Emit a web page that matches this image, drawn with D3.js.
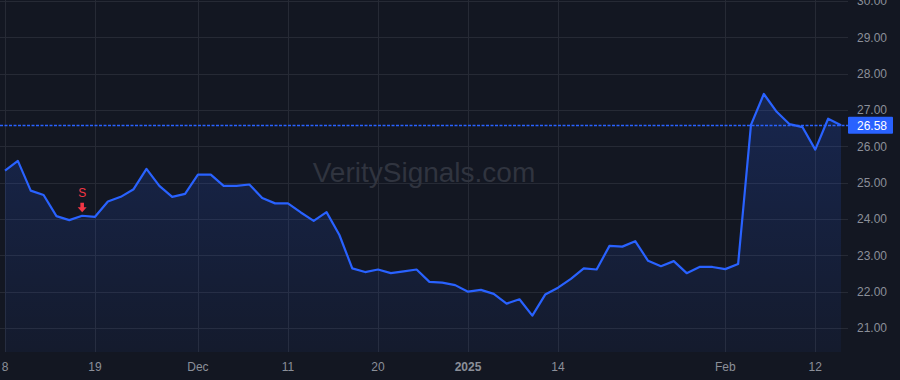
<!DOCTYPE html>
<html>
<head>
<meta charset="utf-8">
<script src="https://cdn.jsdelivr.net/npm/d3@7"></script>
<style>
  html, body { margin: 0; padding: 0; background: #131722; }
  svg { display: block; font-family: "Liberation Sans", Arial, sans-serif; }
</style>
</head>
<body>
<svg id="chart" width="900" height="380"></svg>
<script>
// trading days shown on the chart
const dates = [
  "2024-11-08","2024-11-11","2024-11-12","2024-11-13","2024-11-14","2024-11-15",
  "2024-11-18","2024-11-19","2024-11-20","2024-11-21","2024-11-22",
  "2024-11-25","2024-11-26","2024-11-27","2024-11-29",
  "2024-12-02","2024-12-03","2024-12-04","2024-12-05","2024-12-06",
  "2024-12-09","2024-12-10","2024-12-11","2024-12-12","2024-12-13",
  "2024-12-16","2024-12-17","2024-12-18","2024-12-19","2024-12-20",
  "2024-12-23","2024-12-24","2024-12-26","2024-12-27","2024-12-30","2024-12-31",
  "2025-01-02","2025-01-03","2025-01-06","2025-01-07","2025-01-08","2025-01-10",
  "2025-01-13","2025-01-14","2025-01-15","2025-01-16","2025-01-17",
  "2025-01-21","2025-01-22","2025-01-23","2025-01-24",
  "2025-01-27","2025-01-28","2025-01-29","2025-01-30","2025-01-31",
  "2025-02-03","2025-02-04","2025-02-05","2025-02-06","2025-02-07",
  "2025-02-10","2025-02-11","2025-02-12","2025-02-13","2025-02-14"
];

const closes = [
  25.33, 25.60, 24.78, 24.66, 24.08, 23.97,
  24.09, 24.06, 24.48, 24.61, 24.82,
  25.38, 24.91, 24.61, 24.69,
  25.22, 25.22, 24.91, 24.91, 24.95,
  24.58, 24.43, 24.43, 24.18, 23.95,
  24.19, 23.56, 22.64, 22.54, 22.61,
  22.51, 22.56, 22.61, 22.27, 22.25, 22.18,
  22.00, 22.05, 21.94, 21.67, 21.79, 21.34,
  21.92, 22.11, 22.35, 22.64, 22.61,
  23.26, 23.24, 23.39, 22.85,
  22.70, 22.84, 22.51, 22.68, 22.68,
  22.62, 22.76, 26.59, 27.44, 26.95,
  26.61, 26.53, 25.91, 26.76, 26.58
];

const xTickDates  = ["2024-11-08","2024-11-19","2024-12-02","2024-12-11","2024-12-20","2025-01-02","2025-01-14","2025-02-03","2025-02-12"];
const xTickLabels = ["8","19","Dec","11","20","2025","14","Feb","12"];
const yTicks = [21, 22, 23, 24, 25, 26, 27, 28, 29, 30];

const signalDates = ["2024-11-18"];
const signalTypes = ["S"];

const lastPrice = 26.58;

// --- layout ---
const W = 900, H = 380;
const plotW = 848, plotH = 352;

const svg = d3.select("#chart");
const data = dates.map((d, i) => ({ i, date: d, v: closes[i] }));
const idx = d => dates.indexOf(d);

const x = d3.scaleLinear().domain([0, dates.length - 1]).range([5, 841]);
const y = d3.scaleLinear().domain([21, 30]).range([328, 1]);

svg.append("rect").attr("width", W).attr("height", H).attr("fill", "#131722");

const defs = svg.append("defs");
const grad = defs.append("linearGradient").attr("id", "fillGrad")
  .attr("x1", 0).attr("y1", 0).attr("x2", 0).attr("y2", 1);
grad.append("stop").attr("offset", "0%").attr("stop-color", "#2962ff").attr("stop-opacity", 0.2);
grad.append("stop").attr("offset", "100%").attr("stop-color", "#2962ff").attr("stop-opacity", 0.05);
defs.append("clipPath").attr("id", "plotClip").append("rect").attr("width", plotW).attr("height", plotH);

// grid
const grid = svg.append("g").attr("shape-rendering", "crispEdges");
grid.selectAll("line.h").data(yTicks).join("line")
  .attr("x1", 0).attr("x2", plotW)
  .attr("y1", d => Math.round(y(d)) + 0.5).attr("y2", d => Math.round(y(d)) + 0.5)
  .attr("stroke", "#262a35").attr("stroke-width", 1);
grid.selectAll("line.v").data(xTickDates).join("line")
  .attr("y1", 0).attr("y2", plotH)
  .attr("x1", d => Math.round(x(idx(d))) + 0.5).attr("x2", d => Math.round(x(idx(d))) + 0.5)
  .attr("stroke", "#262a35").attr("stroke-width", 1);

// watermark
svg.append("text")
  .attr("x", 424).attr("y", 182)
  .attr("text-anchor", "middle")
  .attr("font-size", 28)
  .attr("fill", "#30343f")
  .text("VeritySignals.com");

// area + line
const plot = svg.append("g").attr("clip-path", "url(#plotClip)");
const area = d3.area().x(d => x(d.i)).y0(plotH).y1(d => y(d.v));
const line = d3.line().x(d => x(d.i)).y(d => y(d.v));

plot.append("path").datum(data).attr("d", area).attr("fill", "url(#fillGrad)");

plot.append("path").datum(data).attr("d", line)
  .attr("fill", "none").attr("stroke", "#2962ff").attr("stroke-width", 2.2)
  .attr("stroke-linejoin", "round");

// last price dotted line
svg.append("path")
  .attr("d", `M0,${Math.round(y(lastPrice)) + 0.5}H${plotW}`)
  .attr("fill", "none")
  .attr("stroke", "#2962ff").attr("stroke-width", 1.5).attr("stroke-dasharray", "3,1.5");

// signals
signalDates.forEach((d, k) => {
  const px = x(idx(d)), py = y(closes[idx(d)]);
  const g = svg.append("g").attr("transform", `translate(${px},${py})`);
  g.append("path")
    .attr("d", "M-1.8,-13 L1.8,-13 L1.8,-8.5 L4.5,-8.5 L0,-3.5 L-4.5,-8.5 L-1.8,-8.5 Z")
    .attr("fill", "#f23645");
  g.append("text").attr("y", -19).attr("text-anchor", "middle")
    .attr("font-size", 12).attr("fill", "#f23645").text(signalTypes[k]);
});

// axes
const yAxis = svg.append("g").attr("font-size", 12);
yAxis.selectAll("text").data(yTicks).join("text")
  .attr("x", 887).attr("y", d => y(d)).attr("dy", "0.36em")
  .attr("text-anchor", "end").attr("fill", "#8b8f99")
  .text(d => d3.format(".2f")(d));

const xAxis = svg.append("g").attr("font-size", 12);
xAxis.selectAll("text").data(xTickDates).join("text")
  .attr("x", d => x(idx(d))).attr("y", 371)
  .attr("text-anchor", "middle").attr("fill", "#8b8f99")
  .attr("font-weight", (d, i) => xTickLabels[i] === "2025" ? "bold" : null)
  .text((d, i) => xTickLabels[i]);

// last price label
const lp = svg.append("g").attr("transform", `translate(848,${y(lastPrice)})`);
lp.append("rect").attr("x", 0).attr("y", -8.5).attr("width", 45).attr("height", 17)
  .attr("rx", 1).attr("fill", "#2962ff");
lp.append("text").attr("x", 39).attr("dy", "0.36em").attr("text-anchor", "end")
  .attr("font-size", 12).attr("fill", "#ffffff").text(d3.format(".2f")(lastPrice));
</script>
</body>
</html>
